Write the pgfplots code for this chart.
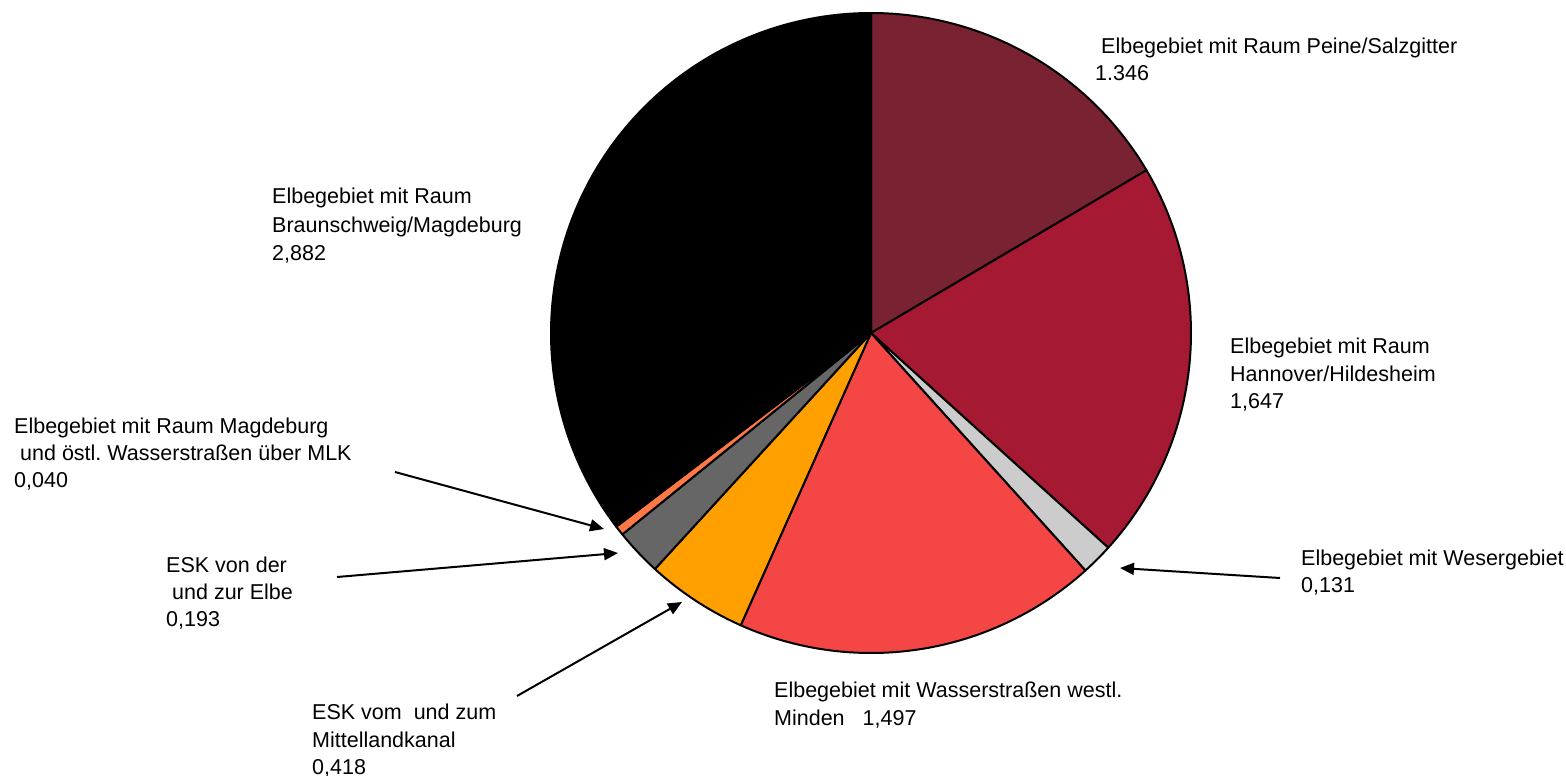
\documentclass[border=0pt]{standalone}
\usepackage{pgfplots}
\pgfplotsset{compat=1.18}
\usepackage{fontspec}
\setmainfont{Liberation Sans}
\usetikzlibrary{arrows.meta}
\frenchspacing
\definecolor{cPeine}{HTML}{782232}
\definecolor{cHann}{HTML}{A61932}
\definecolor{cWeser}{HTML}{CCCCCC}
\definecolor{cMinden}{HTML}{F44644}
\definecolor{cMLK}{HTML}{FFA000}
\definecolor{cESK}{HTML}{666666}
\definecolor{cMagd}{HTML}{FF7846}
\definecolor{cBraun}{HTML}{000000}
% values (Mio. t)
\def\vPeine{1.346}
\def\vHann{1.647}
\def\vWeser{0.131}
\def\vMinden{1.497}
\def\vMLK{0.418}
\def\vESK{0.193}
\def\vMagd{0.040}
\def\vBraun{2.882}
\pgfmathsetmacro\T{\vPeine+\vHann+\vWeser+\vMinden+\vMLK+\vESK+\vMagd+\vBraun}
\pgfmathsetmacro\aA{90}
\pgfmathsetmacro\aB{\aA-360*\vPeine/\T}
\pgfmathsetmacro\aC{\aB-360*\vHann/\T}
\pgfmathsetmacro\aD{\aC-360*\vWeser/\T}
\pgfmathsetmacro\aE{\aD-360*\vMinden/\T}
\pgfmathsetmacro\aF{\aE-360*\vMLK/\T}
\pgfmathsetmacro\aG{\aF-360*\vESK/\T}
\pgfmathsetmacro\aH{\aG-360*\vMagd/\T}
\pgfmathsetmacro\aI{\aH-360*\vBraun/\T}
\newcommand\slice[3]{\addplot[fill=#3, draw=black, line width=2bp, line join=round, domain=#2:#1, samples=120, variable=\t] ({871+320*cos(\t)},{333-320*sin(\t)}) -- (axis cs:871,333) -- cycle;}
\newcommand\lab[3]{\node[anchor=base west, inner sep=0pt, font=\fontsize{21.5bp}{25bp}\selectfont] at (axis cs:#1,#2) {#3};}
\begin{document}
\begin{tikzpicture}
\begin{axis}[scale only axis, width=1566bp, height=776bp,
  xmin=0, xmax=1566, ymin=0, ymax=776, y dir=reverse,
  hide axis, clip=false]
\slice{\aA}{\aB}{cPeine}
\slice{\aB}{\aC}{cHann}
\slice{\aC}{\aD}{cWeser}
\slice{\aD}{\aE}{cMinden}
\slice{\aE}{\aF}{cMLK}
\slice{\aF}{\aG}{cESK}
\slice{\aG}{\aH}{cMagd}
\slice{\aH}{\aI}{cBraun}
% labels
\lab{1101}{54}{Elbegebiet mit Raum Peine/Salzgitter}
\lab{1095}{81}{1.346}
\lab{1230}{353}{Elbegebiet mit Raum}
\lab{1230}{381}{Hannover/Hildesheim}
\lab{1230}{408}{1,647}
\lab{1301}{565}{Elbegebiet mit Wesergebiet}
\lab{1301}{592}{0,131}
\lab{774}{697}{Elbegebiet mit Wasserstraßen westl.}
\lab{774}{725}{Minden\hspace{18bp}1,497}
\lab{312}{719}{ESK vom\hspace{6bp} und zum}
\lab{312}{747}{Mittellandkanal}
\lab{312}{774}{0,418}
\lab{166}{572}{ESK von der}
\lab{172}{599}{und zur Elbe}
\lab{166}{626}{0,193}
\lab{14}{433}{Elbegebiet mit Raum Magdeburg}
\lab{20}{460}{und östl. Wasserstraßen über MLK}
\lab{14}{487}{0,040}
\lab{272}{203}{Elbegebiet mit Raum}
\lab{272}{232}{Braunschweig/Magdeburg}
\lab{272}{260}{2,882}
% arrows
\draw[line width=2bp, -{Triangle[length=14bp,width=12bp]}] (axis cs:395,472) -- (axis cs:604,529);
\draw[line width=2bp, -{Triangle[length=14bp,width=12bp]}] (axis cs:337,577) -- (axis cs:618,553);
\draw[line width=2bp, -{Triangle[length=14bp,width=12bp]}] (axis cs:517,696) -- (axis cs:682,602);
\draw[line width=2bp, -{Triangle[length=14bp,width=12bp]}] (axis cs:1280,578) -- (axis cs:1120,568);
\end{axis}
\pgfresetboundingbox
\useasboundingbox (0,0) rectangle (1566bp,776bp);
\end{tikzpicture}
\end{document}
